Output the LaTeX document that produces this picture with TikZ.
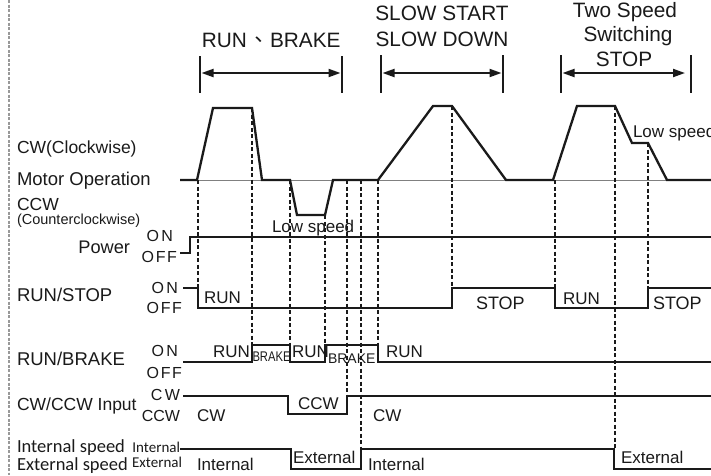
\documentclass[tikz,border=0pt]{standalone}
\usepackage{fontspec}
\setmainfont{Liberation Sans}
\newfontfamily\carl{Carlito}
\newfontfamily\tcfont{Noto Sans CJK TC}
\usetikzlibrary{arrows.meta}
\newcommand\fsz[1]{\fontsize{#1}{#1}\selectfont}
\definecolor{ink}{HTML}{1A1A1A}
\begin{document}
\begin{tikzpicture}[x=1pt,y=-1pt,
  every node/.style={inner sep=0pt,outer sep=0pt,text=ink},
  lbl/.style={anchor=base west,font=\fsz{17.5}},
  onoff/.style={anchor=base east,font=\fsz{16}},
  wl/.style={anchor=base west,font=\fsz{17}},
  ttl/.style={anchor=base,font=\fsz{20.8}},
  sig/.style={draw=ink,line width=2.3pt,line join=miter},
  vdash/.style={draw=ink,line width=1.1pt,dash pattern=on 4pt off 2.5pt},
  tick/.style={draw=ink,line width=2.6pt},
  span/.style={draw=ink,line width=2pt,{Triangle[length=12pt,width=8pt]}-{Triangle[length=12pt,width=8pt]}}]
\useasboundingbox (0,0) rectangle (711,475);
\fill[white] (0,0) rectangle (711,475);
% left border
\draw[gray!80,line width=2pt,dash pattern=on 3pt off 1.5pt] (9,0) -- (9,475);

% titles
\node[ttl,anchor=base east] (t1a) at (247,47) {RUN};
\node[ttl,font=\fsz{20.8}\tcfont] (t1c) at (259,47) {、};
\node[ttl,anchor=base west] (t1b) at (270,47) {BRAKE};
\node[ttl] (t2a) at (442,20) {SLOW START};
\node[ttl] (t2b) at (442,46) {SLOW DOWN};
\node[ttl] (t3a) at (625,17) {Two Speed};
\node[ttl] (t3b) at (628,41.5) {Switching};
\node[ttl] (t3c) at (624,66) {STOP};

% span arrows
\draw[tick] (200,56) -- (200,93);
\draw[tick] (342,56) -- (342,93);
\draw[tick] (381,55) -- (381,93);
\draw[tick] (503,55) -- (503,93);
\draw[tick] (561,55) -- (561,93);
\draw[tick] (691,55) -- (691,93);
\draw[span] (201.5,73) -- (340.5,73);
\draw[span] (382.5,73) -- (501.5,73);
\draw[span] (562.5,73) -- (685,73);

% left labels
\node[lbl] (l1) at (17,153) {CW(Clockwise)};
\node[lbl,font=\fsz{18.5}] (l2) at (17,185) {Motor Operation};
\node[lbl] (l3) at (17,210) {CCW};
\node[lbl,font=\fsz{14.5}] (l4) at (17,224) {(Counterclockwise)};
\node[lbl,anchor=base east,font=\fsz{18.2}] (l5) at (130,253) {Power};
\node[lbl,font=\fsz{18.5}] (l6) at (17,301) {RUN/STOP};
\node[lbl,font=\fsz{18.5}] (l7) at (17,365) {RUN/BRAKE};
\node[lbl] (l8) at (17,410) {CW/CCW Input};
\node[lbl,font=\fsz{18.5}\carl] (l9) at (17,452) {Internal speed};
\node[lbl,font=\fsz{18.5}\carl] (l10) at (17,470) {External speed};

% on/off labels
\node[onoff] (p1) at (173,241) {O\kern2.5pt N};
\node[onoff] (p2) at (177,262) {O\kern2pt F\kern1.5pt F};
\node[onoff] (r1) at (178,293) {O\kern2.5pt N};
\node[onoff] (r2) at (182,313) {O\kern2pt F\kern1.5pt F};
\node[onoff] (b1) at (178,356) {O\kern2.5pt N};
\node[onoff] (b2) at (182,378) {O\kern2pt F\kern1.5pt F};
\node[onoff] (c1) at (180,400) {C\kern2.5pt W};
\node[onoff] (c2) at (180,421) {CCW};
\node[onoff,font=\fsz{15}\carl] (s1) at (180,452) {Internal};
\node[onoff,font=\fsz{15}\carl] (s2) at (182,467) {External};

% motor operation
\draw[gray,line width=1pt] (180,180) -- (711,180);
\draw[sig] (180,180) -- (197,180) -- (213,108) -- (252,108) -- (262,180) -- (290,180)
  -- (297,215) -- (325,215) -- (333,180) -- (378,180) -- (433,106) -- (452,106)
  -- (506,180) -- (553,180) -- (577,106) -- (615,106) -- (632,143) -- (648,143)
  -- (667,180) -- (711,180);
\node[wl] (ls1) at (272,232) {Low speed};
\node[wl] (ls2) at (633,137) {Low speed};

% power
\draw[sig] (180,253) -- (190,253) -- (190,237) -- (711,237);
% run/stop
\draw[sig] (183,288) -- (198,288) -- (198,308) -- (452,308) -- (452,288) -- (555,288)
  -- (555,308) -- (648,308) -- (648,288) -- (711,288);
\node[wl] (rs1) at (204,303) {RUN};
\node[wl,font=\fsz{18}] (rs2) at (476,309) {STOP};
\node[wl] (rs3) at (563,304) {RUN};
\node[wl,font=\fsz{18}] (rs4) at (653,309) {STOP};
% run/brake
\draw[sig] (183,362) -- (252,362) -- (252,345) -- (290,345) -- (290,362) -- (325,362)
  -- (325,345) -- (378,345) -- (378,362) -- (711,362);
\node[wl] (rb1) at (213,357) {RUN};
\node[wl,font=\fsz{14},xscale=0.8] (rb2) at (252.5,361.5) {BRAKE};
\node[wl] (rb3) at (292,357) {RUN};
\node[wl,font=\fsz{14}] (rb4) at (328,363) {BRAKE};
\node[wl] (rb5) at (386,357) {RUN};
% cw/ccw
\draw[sig] (183,396) -- (288,396) -- (288,414) -- (347,414) -- (347,396) -- (711,396);
\node[wl] (cc1) at (197,421) {CW};
\node[wl] (cc2) at (298,409) {CCW};
\node[wl] (cc3) at (373,421) {CW};
% internal/external
\draw[sig] (180,449) -- (291,449) -- (291,469) -- (361,469) -- (361,449) -- (614,449)
  -- (614,469) -- (711,469);
\node[wl] (ie1) at (197,470) {Internal};
\node[wl] (ie2) at (293,463) {External};
\node[wl] (ie3) at (368,470) {Internal};
\node[wl] (ie4) at (621,463) {External};

% dashed verticals
\draw[vdash] (198,180) -- (198,288);
\draw[vdash] (252,108) -- (252,345);
\draw[vdash] (290,180) -- (290,345);
\draw[vdash] (325,215) -- (325,345);
\draw[vdash] (347,180) -- (347,396);
\draw[vdash] (361,180) -- (361,449);
\draw[vdash] (378,180) -- (378,345);
\draw[vdash] (452,106) -- (452,288);
\draw[vdash] (555,180) -- (555,288);
\draw[vdash] (615,106) -- (615,449);
\draw[vdash] (648,143) -- (648,288);
\end{tikzpicture}
\end{document}
